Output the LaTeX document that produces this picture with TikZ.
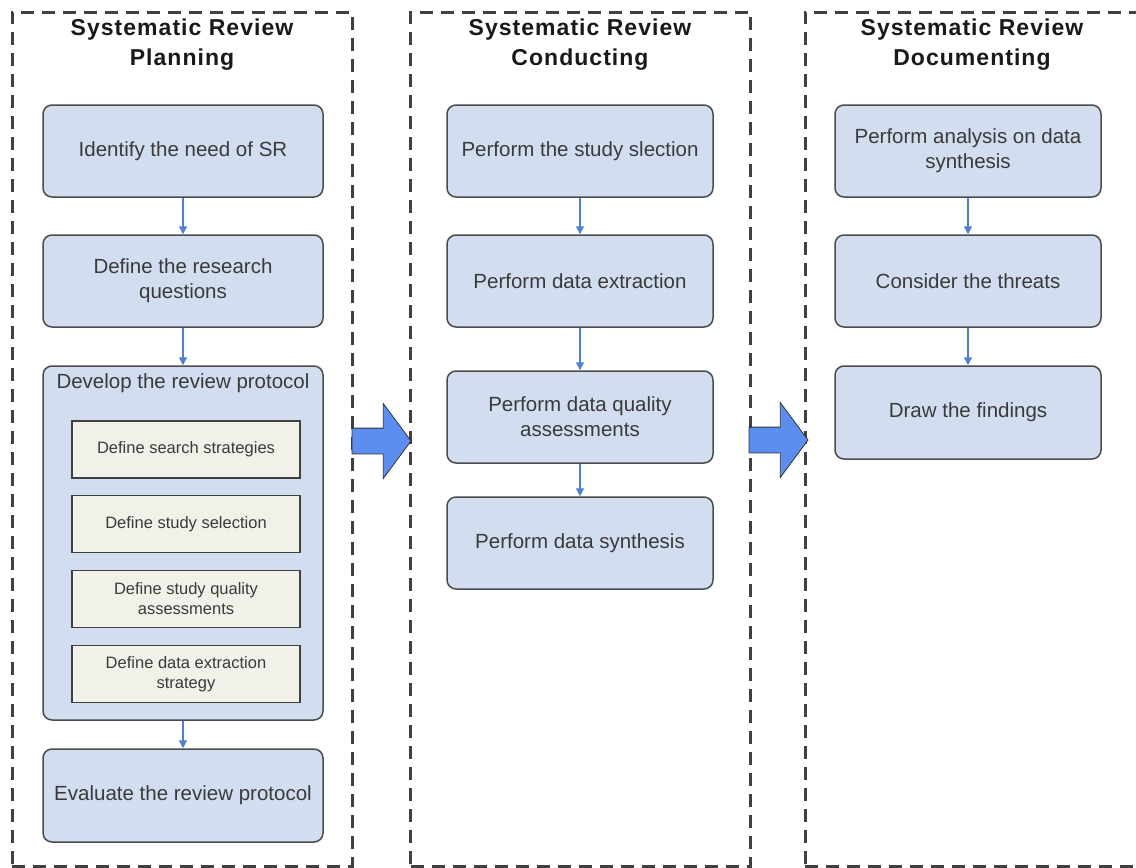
\documentclass[tikz,border=0pt]{standalone}
\usepackage{fontspec}
\setmainfont{Liberation Sans}
\usetikzlibrary{arrows.meta, positioning, shapes.arrows}

\definecolor{boxblue}{HTML}{D2DEF0}
\definecolor{subfill}{HTML}{F1F1E9}
\definecolor{flowblue}{HTML}{4F80D2}
\definecolor{bigblue}{HTML}{5C8EF0}
\definecolor{txtgray}{HTML}{3A3A3A}

\begin{document}
\begin{tikzpicture}[x=1pt, y=-1pt,
  lane/.style={draw=black!75, line width=3pt, dash pattern=on 13pt off 8pt, minimum width=340pt, minimum height=854pt, inner sep=0pt},
  lanetitle/.style={font=\fontsize{23}{30}\selectfont\bfseries\addfontfeature{LetterSpace=4.5}, align=center, text=black!90},
  stepbox/.style={draw=black!70, fill=boxblue, rounded corners=9pt, line width=1.5pt, minimum height=92pt, align=center, font=\fontsize{20.5}{25}\selectfont, text=txtgray, inner sep=0pt},
  steplabel/.style={align=center, font=\fontsize{20.5}{25}\selectfont, text=txtgray, inner sep=2pt},
  subbox/.style={draw=black!75, fill=subfill, line width=1.6pt, minimum width=228pt, minimum height=57pt, align=center, font=\fontsize{16.5}{20}\selectfont, text=txtgray, inner sep=0pt},
  flow/.style={-{Triangle[width=8pt,length=8pt]}, flowblue, line width=1.4pt},
  bigarrow/.style={single arrow, draw=black!80, fill=bigblue, line width=0.8pt, minimum height=59pt, inner xsep=0pt, inner ysep=12.5pt, outer sep=0pt, single arrow head extend=24.5pt, single arrow tip angle=107, single arrow head indent=0pt}]

  \useasboundingbox (0,0) rectangle (1136,868);

  % Swim lanes
  \node[lane] (planLane) at (182,439) {};
  \node[lane] (conductLane) at (580.5,439) {};
  \node[lane] (documentLane) at (975,439) {};

  % Lane titles
  \node[lanetitle] (planTitle) at (182,45) {Systematic Review\\Planning};
  \node[lanetitle] (conductTitle) at (580,45) {Systematic Review\\Conducting};
  \node[lanetitle] (documentTitle) at (972,45) {Systematic Review\\Documenting};

  % Planning steps
  \node[stepbox, minimum width=280pt] (needSR) at (183,151) {Identify the need of SR};
  \node[stepbox, minimum width=280pt] (researchQ) at (183,281) {Define the research\\questions};
  \node[stepbox, minimum width=280pt, minimum height=354pt] (protocol) at (183,543) {};
  \node[steplabel, below=6pt of protocol.north] (protocolTitle) {Develop the review protocol};
  \node[stepbox, minimum width=280pt, minimum height=93pt] (evalProtocol) at (183,795.5) {Evaluate the review protocol};

  % Protocol parts
  \node[subbox] (searchDef) at (186,449.5) {Define search strategies};
  \node[subbox] (selectDef) at (186,524) {Define study selection};
  \node[subbox] (qualityDef) at (186,599) {Define study quality\\assessments};
  \node[subbox] (extractDef) at (186,674) {Define data extraction\\strategy};

  % Conducting steps
  \node[stepbox, minimum width=266pt] (studySel) at (580,151) {Perform the study slection};
  \node[stepbox, minimum width=266pt] (dataExtr) at (580,281) {Perform data extraction};
  \node[stepbox, minimum width=266pt] (dataQual) at (580,417) {Perform data quality\\assessments};
  \node[stepbox, minimum width=266pt] (dataSynth) at (580,543) {Perform data synthesis};

  % Documenting steps
  \node[stepbox, minimum width=266pt] (analysis) at (968,151) {Perform analysis on data\\synthesis};
  \node[stepbox, minimum width=266pt] (threats) at (968,281) {Consider the threats};
  \node[stepbox, minimum width=266pt, minimum height=93pt] (findings) at (968,412.5) {Draw the findings};

  % Flow inside lanes
  \draw[flow] (needSR) -- (researchQ);
  \draw[flow] (researchQ) -- (protocol);
  \draw[flow] (protocol) -- (evalProtocol);
  \draw[flow] (studySel) -- (dataExtr);
  \draw[flow] (dataExtr) -- (dataQual);
  \draw[flow] (dataQual) -- (dataSynth);
  \draw[flow] (analysis) -- (threats);
  \draw[flow] (threats) -- (findings);

  % Phase arrows
  \node[bigarrow, anchor=tail] (toConduct) at (352,441) {};
  \node[bigarrow, anchor=tail] (toDocument) at (749,440) {};
\end{tikzpicture}
\end{document}
